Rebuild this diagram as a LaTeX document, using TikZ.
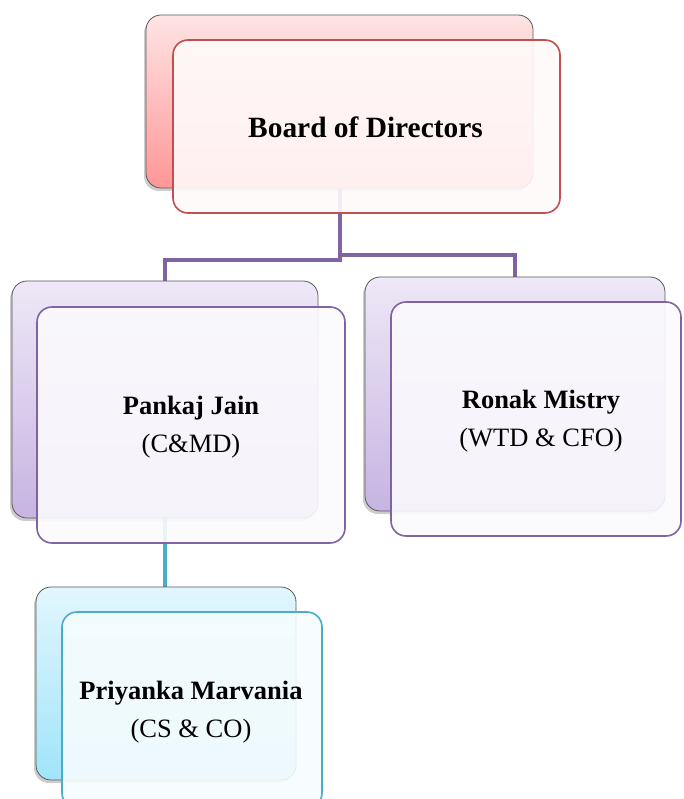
\documentclass[tikz,border=0pt]{standalone}
\usepackage{fontspec}
\setmainfont{Liberation Serif}
\usetikzlibrary{shadows,calc,backgrounds}
\definecolor{redB}{HTML}{C0504D}
\definecolor{purB}{HTML}{8064A2}
\definecolor{tealB}{HTML}{4BACC6}
\definecolor{redTop}{RGB}{255,228,228}
\definecolor{redBot}{RGB}{255,150,150}
\definecolor{purTop}{RGB}{238,232,247}
\definecolor{purBot}{RGB}{198,180,226}
\definecolor{tealTop}{RGB}{226,246,253}
\definecolor{tealBot}{RGB}{160,228,250}
\definecolor{redFill}{RGB}{255,250,250}
\definecolor{purFill}{RGB}{251,250,253}
\definecolor{tealFill}{RGB}{246,252,254}
\begin{document}
\begin{tikzpicture}[x=1pt,y=-1pt,
  backbox/.style={rounded corners=15pt, draw=gray!70!black, line width=0.8pt,
    drop shadow={shadow xshift=-2pt, shadow yshift=-3pt, opacity=0.4}},
  frontbox/.style={rounded corners=15pt, line width=1.6pt, fill opacity=0.9},
  namefont/.style={font=\fontsize{26.5}{38}\selectfont, align=center},
  pconn/.style={draw=purB, line width=4pt},
  tconn/.style={draw=tealB, line width=4pt}]
\useasboundingbox (0,0) rectangle (683,799);
% back boxes
\node[backbox, minimum width=387pt, minimum height=173pt, top color=redTop, bottom color=redBot] (bback) at (339.5,101.5) {};
\node[backbox, minimum width=306pt, minimum height=237pt, top color=purTop, bottom color=purBot] (pback) at (165,399.5) {};
\node[backbox, minimum width=300pt, minimum height=234pt, top color=purTop, bottom color=purBot] (rback) at (515,394) {};
\node[backbox, minimum width=260pt, minimum height=193pt, top color=tealTop, bottom color=tealBot] (qback) at (166,683.5) {};
% connectors behind the boxes
\begin{scope}[on background layer]
\draw[pconn] (bback.south) |- ($(pback.north)+(0,-21)$) -- (pback.north);
\draw[pconn] ($(bback.south)+(0,67)$) -| (rback.north);
\draw[tconn] (pback.south) -- (pback.south |- qback.north);
\end{scope}
% front boxes
\node[frontbox, draw=redB, fill=redFill, minimum width=387pt, minimum height=173pt] (bfront) at (366.5,126.5) {};
\node[frontbox, draw=purB, fill=purFill, minimum width=308pt, minimum height=236pt] (pfront) at (191,425) {};
\node[frontbox, draw=purB, fill=purFill, minimum width=290pt, minimum height=234pt] (rfront) at (536,419) {};
\node[frontbox, draw=tealB, fill=tealFill, minimum width=260pt, minimum height=196pt] (qfront) at (192,710) {};
% texts
\node[font=\fontsize{29.4}{36}\selectfont\bfseries] (btext) at (365.5,127) {Board of Directors};
\node[namefont] (ptext) at (191,427) {\textbf{Pankaj Jain}\\(C\&MD)};
\node[namefont] (rtext) at (541,421.5) {\textbf{Ronak Mistry}\\(WTD \& CFO)};
\node[namefont] (qtext) at (191,712) {\textbf{Priyanka Marvania}\\(CS \& CO)};
\end{tikzpicture}
\end{document}
